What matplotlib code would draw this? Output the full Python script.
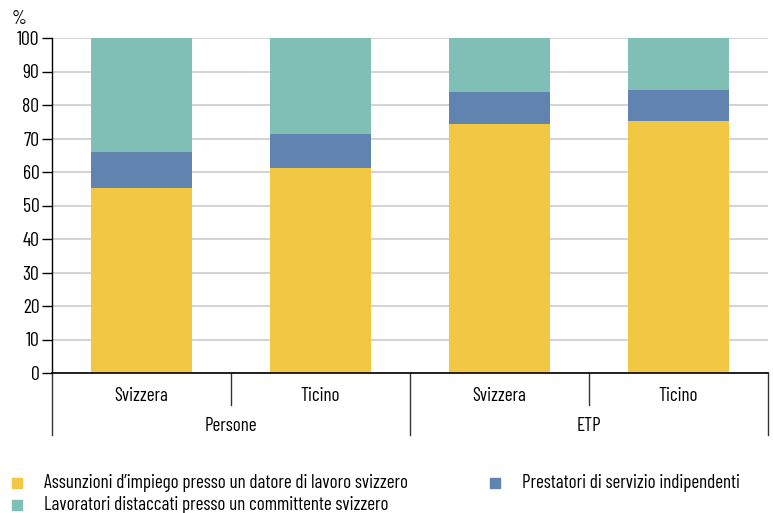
import matplotlib
matplotlib.use("Agg")
import matplotlib.pyplot as plt
from matplotlib.patches import Rectangle
import matplotlib.transforms as mtransforms

plt.rcParams['font.family'] = ['Barlow Condensed', 'Roboto Condensed', 'DejaVu Sans']

categories = ["Svizzera", "Ticino", "Svizzera", "Ticino"]
groups = ["Persone", "ETP"]
assunzioni = [55.2, 61.2, 74.4, 75.3]
prestatori = [10.8, 10.2, 9.4, 9.3]
lavoratori = [34.0, 28.6, 16.2, 15.4]
series_names = ["Assunzioni d’impiego presso un datore di lavoro svizzero",
                "Prestatori di servizio indipendenti",
                "Lavoratori distaccati presso un committente svizzero"]
colors = ["#F2C744", "#6183B0", "#7FBFB5"]
yticks = list(range(0, 101, 10))

FS = 13.7
fig = plt.figure(figsize=(7.73, 5.13), dpi=100)
W, H = 773, 513
ax = fig.add_axes([52 / W, (H - 373) / H, (768 - 52) / W, (373 - 38) / H])

x = list(range(len(categories)))
bw = 0.56
ax.bar(x, assunzioni, bw, color=colors[0], zorder=3)
ax.bar(x, prestatori, bw, bottom=assunzioni, color=colors[1], zorder=3)
b3 = [a + p for a, p in zip(assunzioni, prestatori)]
ax.bar(x, lavoratori, bw, bottom=b3, color=colors[2], zorder=3)

ax.set_xlim(-0.5, len(categories) - 0.5)
ax.set_ylim(0, 100)
ax.set_yticks(yticks)
ax.tick_params(axis='y', length=7, width=1, labelsize=FS + 0.5, pad=2, color='black')
ax.tick_params(axis='x', length=0, labelbottom=False)
ax.yaxis.grid(True, color='#cccccc', linewidth=1.2, zorder=0)
for s in ['top', 'right']:
    ax.spines[s].set_visible(False)
ax.spines['left'].set_linewidth(1)
ax.spines['bottom'].set_linewidth(1.2)
ax.spines['bottom'].set_zorder(4)

trans = mtransforms.blended_transform_factory(ax.transData, ax.transAxes)
short = -32 / 335
long_ = -62 / 335
for xi in [-0.5, 1.5, 3.5]:
    ax.plot([xi, xi], [0, long_], transform=trans, color='#333333', lw=1, clip_on=False)
for xi in [0.5, 2.5]:
    ax.plot([xi, xi], [0, short], transform=trans, color='#333333', lw=1, clip_on=False)
for xi, c in zip(x, categories):
    ax.text(xi, -23 / 335, c, transform=trans, ha='center', va='center', fontsize=FS)
for gi, g in enumerate(groups):
    ax.text(gi * 2 + 0.5, -53 / 335, g, transform=trans, ha='center', va='center', fontsize=FS)

fig.text(12 / W, 1 - 19 / H, "%", fontsize=FS, ha='left', va='center')

# legend
leg = [(17, 483, 0), (17, 505, 2), (495, 483, 1)]
for lx, ly, i in leg:
    fig.add_artist(Rectangle(((lx - 5) / W, 1 - (ly + 5) / H), 10 / W, 10 / H,
                             transform=fig.transFigure, color=colors[i]))
    fig.text((lx + 27) / W, 1 - ly / H, series_names[i], fontsize=FS, ha='left', va='center')

fig.savefig("out.png", dpi=100)
